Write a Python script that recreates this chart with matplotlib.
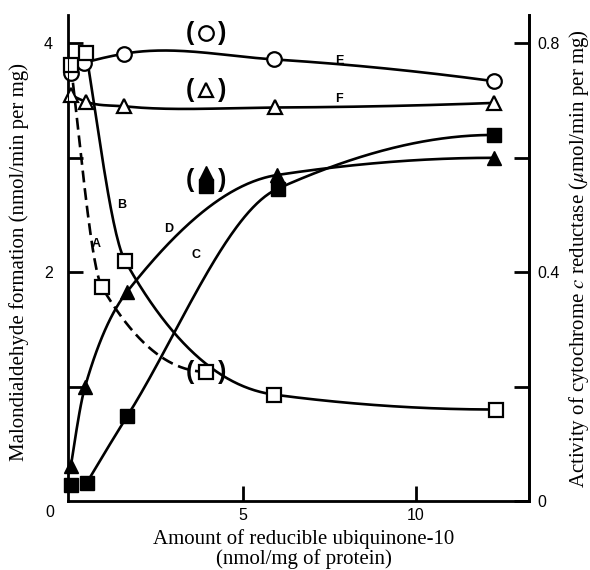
import numpy as np
import matplotlib.pyplot as plt

plt.rcParams["font.family"] = ["Liberation Sans", "DejaVu Sans"]
plt.rcParams["mathtext.fontset"] = "stix"

# amount of reducible ubiquinone-10 (nmol/mg of protein) and measured values
x_e = [0.0, 0.38, 1.54, 5.9, 12.27]
y_e = [3.74, 3.83, 3.91, 3.86, 3.67]
x_f = [0.0, 0.44, 1.54, 5.93, 12.27]
y_f = [3.55, 3.49, 3.45, 3.44, 3.48]
x_b = [0.44, 1.57, 5.9, 12.33]
y_b = [3.92, 2.10, 0.93, 0.80]
x_a = [0.0, 0.9, 3.92]
y_a = [3.81, 1.87, 1.13]
x_d = [0.0, 0.41, 1.63, 5.99, 12.27]
y_d = [0.31, 1.0, 1.83, 2.85, 3.0]
x_c = [0.0, 0.46, 1.63, 6.0, 12.27]
y_c = [0.14, 0.16, 0.74, 2.73, 3.2]

# bracketed values at ~4 nmol/mg
x_br = 3.92
y_br_circle = 4.09
y_br_tri = 3.59
y_br_tri_f = 2.87
y_br_sq_f = 2.75

LW = 1.9
MS = 10.5


def smooth(x, y, monotone=True, n=300):
    """Hermite curve through the points (pchip-like when monotone)."""
    x = np.asarray(x, float)
    y = np.asarray(y, float)
    h = np.diff(x)
    d = np.diff(y) / h
    m = np.zeros_like(y)
    for k in range(1, len(x) - 1):
        if monotone:
            if d[k - 1] * d[k] > 0:
                w1 = 2 * h[k] + h[k - 1]
                w2 = h[k] + 2 * h[k - 1]
                m[k] = (w1 + w2) / (w1 / d[k - 1] + w2 / d[k])
        else:
            m[k] = (d[k - 1] * h[k] + d[k] * h[k - 1]) / (h[k - 1] + h[k])

    def end(h0, h1, d0, d1):
        s = ((2 * h0 + h1) * d0 - h0 * d1) / (h0 + h1)
        if monotone:
            if np.sign(s) != np.sign(d0):
                s = 0.0
            elif np.sign(d0) != np.sign(d1) and abs(s) > 3 * abs(d0):
                s = 3 * d0
        return s

    m[0] = end(h[0], h[1], d[0], d[1])
    m[-1] = end(h[-1], h[-2], d[-1], d[-2])

    xx = np.linspace(x[0], x[-1], n)
    idx = np.clip(np.searchsorted(x, xx) - 1, 0, len(h) - 1)
    t = (xx - x[idx]) / h[idx]
    h00 = 2 * t**3 - 3 * t**2 + 1
    h10 = t**3 - 2 * t**2 + t
    h01 = -2 * t**3 + 3 * t**2
    h11 = t**3 - t**2
    yy = (h00 * y[idx] + h10 * h[idx] * m[idx]
          + h01 * y[idx + 1] + h11 * h[idx] * m[idx + 1])
    return xx, yy


fig = plt.figure(figsize=(5.9, 5.7), dpi=100)
ax = fig.add_axes([0.115, 0.121, 0.782, 0.853])
ax.set_xlim(-0.09, 13.3)
ax.set_ylim(0, 4.25)

# curves
ax.plot(*smooth(x_e[1:], y_e[1:], monotone=False), color="black", lw=LW)
ax.plot(*smooth(x_f, y_f, monotone=False), color="black", lw=LW)
ax.plot(*smooth(x_b, y_b), color="black", lw=LW)
ax.plot(*smooth(x_a, y_a), color="black", lw=LW, ls=(0, (4.5, 2.2)))
ax.plot(*smooth(x_d, y_d), color="black", lw=LW)
ax.plot(*smooth(x_c[1:], y_c[1:]), color="black", lw=LW)

# markers
open_kw = dict(ls="none", mfc="white", mec="black", mew=1.6, ms=MS, zorder=5,
               clip_on=False)
fill_kw = dict(ls="none", mfc="black", mec="black", mew=1.0, ms=MS, zorder=5,
               clip_on=False)
ax.plot(x_e, y_e, "o", **open_kw)
ax.plot(x_f, y_f, "^", **open_kw)
ax.plot(x_b, y_b, "s", **open_kw)
ax.plot(x_a, y_a, "s", **open_kw)
ax.plot(x_d, y_d, "^", **fill_kw)
ax.plot(x_c, y_c, "s", **fill_kw)

# bracketed points
ax.plot([x_br], [y_br_circle], "o", **open_kw)
ax.plot([x_br], [y_br_tri], "^", **open_kw)
ax.plot([x_br], [y_br_sq_f], "s", **fill_kw)
ax.plot([x_br], [y_br_tri_f], "^", **fill_kw)
for yb in [y_br_circle, y_br_tri, (y_br_tri_f + y_br_sq_f) / 2, y_a[-1]]:
    for sign, ch in [(-1, "("), (1, ")")]:
        ax.annotate(ch, (x_br, yb), xytext=(sign * 16, 0),
                    textcoords="offset pixels", ha="center", va="center",
                    fontsize=18, fontweight="bold")

# curve letters
for lab, lx, ly in [("E", 7.79, 3.85), ("F", 7.79, 3.51), ("B", 1.48, 2.59),
                    ("A", 0.73, 2.25), ("D", 2.85, 2.38), ("C", 3.63, 2.15)]:
    ax.text(lx, ly, lab, fontsize=9, fontweight="bold", ha="center",
            va="center")

# axes styling
for side in ["left", "bottom", "right"]:
    ax.spines[side].set_linewidth(2)
ax.spines["top"].set_visible(False)

ax.set_xticks([5, 10])
ax.set_xticklabels(["5", "10"])
ax.set_yticks([2, 4])
ax.set_yticks([1, 3], minor=True)
ax.tick_params(axis="both", which="both", direction="in", length=11, width=2,
               labelsize=11.5)
ax.tick_params(axis="x", pad=5)
ax.tick_params(axis="y", pad=11)
ax.text(-0.6, -0.1, "0", fontsize=11.5, ha="center", va="center")

ax2 = ax.twinx()
ax2.set_ylim(0, 4.25 * 0.2)
ax2.spines["top"].set_visible(False)
ax2.spines["right"].set_linewidth(2)
ax2.set_yticks([0, 0.4, 0.8])
ax2.set_yticklabels(["0", "0.4", "0.8"])
ax2.set_yticks([0.2, 0.6], minor=True)
ax2.tick_params(axis="y", which="both", direction="in", length=11, width=2,
                labelsize=11.5, pad=6)

serif = ["Liberation Serif", "DejaVu Serif"]
fig.text(0.515, 0.037, "Amount of reducible ubiquinone-10\n(nmol/mg of protein)",
         ha="center", va="center", fontsize=15, family=serif, linespacing=1.05)
fig.text(0.032, 0.54, "Malondialdehyde formation (nmol/min per mg)",
         rotation=90, ha="center", va="center", fontsize=15, family=serif)
fig.text(0.981, 0.547, "Activity of cytochrome $c$ reductase ($\\mu$mol/min per mg)",
         rotation=90, ha="center", va="center", fontsize=15, family=serif)

fig.savefig("out.png", dpi=100)
